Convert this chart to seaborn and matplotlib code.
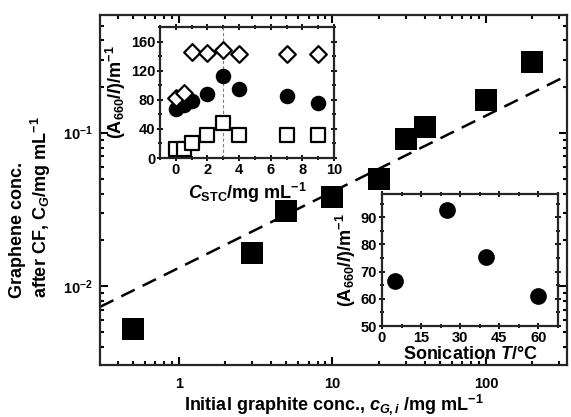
import numpy as np
import pandas as pd
import matplotlib
matplotlib.use("Agg")
import matplotlib.pyplot as plt
import matplotlib.ticker as mticker
import seaborn as sns

# ---------------- data ----------------
# main panel: graphene conc. after CF vs initial graphite conc.
graphite_conc = [0.5, 3, 5, 10, 20, 30, 40, 100, 200]
graphene_conc = [0.0052, 0.0164, 0.0308, 0.0381, 0.0499, 0.0910, 0.1089, 0.163, 0.289]
fit_x = [0.306, 320]
fit_y = [0.0073, 0.2300]

# inset 1: (A660/l) vs C_STC
stc_conc = [0, 0.5, 1, 2, 3, 4, 7, 9]
stc_diamonds = [83, 90, 146, 144, 148.5, 142.5, 142.5, 142.5]
stc_circles = [68, 73, 78, 88, 112, 95, 85, 75]
stc_squares = [13, 13, 21, 32, 48, 31, 32, 31]
stc_optimum = 3

# inset 2: (A660/l) vs sonication temperature
son_temp = [5, 25, 40, 60]
son_abs = [66.5, 92.5, 75.5, 61]

# ---------------- style ----------------
sns.set_theme(style="ticks")
plt.rcParams["font.family"] = ["Liberation Sans", "DejaVu Sans"]
plt.rcParams["font.weight"] = "bold"
plt.rcParams["axes.labelweight"] = "bold"
plt.rcParams["mathtext.fontset"] = "custom"
plt.rcParams["mathtext.rm"] = "Liberation Sans:bold"
plt.rcParams["mathtext.bf"] = "Liberation Sans:bold"
plt.rcParams["mathtext.it"] = "Liberation Sans:italic:bold"
plt.rcParams["mathtext.sf"] = "Liberation Sans:bold"
plt.rcParams["axes.linewidth"] = 1.6
plt.rcParams["text.color"] = "black"
plt.rcParams["axes.labelcolor"] = "black"
plt.rcParams["xtick.color"] = "black"
plt.rcParams["ytick.color"] = "black"

fig = plt.figure(figsize=(5.71, 4.17), dpi=100)
fig.patch.set_facecolor("white")

# ---------------- main axes ----------------
ax = fig.add_axes([100/571, 1-365/417, 467/571, 350/417])
main_df = pd.DataFrame({"x": graphite_conc, "y": graphene_conc})
fit_df = pd.DataFrame({"x": fit_x, "y": fit_y})
sns.lineplot(data=fit_df, x="x", y="y", ax=ax, color="black", lw=1.8,
             dashes=False, zorder=2)
ax.lines[-1].set_dashes((6, 3.5))
sns.scatterplot(data=main_df, x="x", y="y", ax=ax, marker="s", s=250,
                color="black", edgecolor="black", linewidth=0, zorder=3)
ax.set_xscale("log")
ax.set_yscale("log")
ax.set_xlim(0.306, 337)
ax.set_ylim(0.00305, 0.586)
ax.set_xticks([1, 10, 100], labels=["1", "10", "100"])
ax.set_yticks([0.01, 0.1], labels=[r"$10^{-2}$", r"$10^{-1}$"])
ax.xaxis.set_minor_locator(mticker.LogLocator(base=10, subs=np.arange(2, 10)))
ax.yaxis.set_minor_locator(mticker.LogLocator(base=10, subs=np.arange(2, 10)))
ax.xaxis.set_minor_formatter(mticker.NullFormatter())
ax.yaxis.set_minor_formatter(mticker.NullFormatter())
ax.tick_params(which="both", direction="in", top=True, right=True, labelsize=10.5, width=1.5)
ax.tick_params(which="major", length=6)
ax.tick_params(which="minor", length=3)
ax.tick_params(axis="x", which="major", pad=9)
ax.tick_params(axis="y", which="major", pad=5)
for lab in ax.get_xticklabels() + ax.get_yticklabels():
    lab.set_fontweight("bold")
ax.set_xlabel(r"Initial graphite conc., $c_{G,i}$ /mg mL$^{-1}$", fontsize=13,
              fontweight="bold", labelpad=0.5)
ax.set_ylabel("Graphene conc.\n" + r"after CF, C$_G$/mg mL$^{-1}$", fontsize=13,
              fontweight="bold", multialignment="left")
ax.yaxis.set_label_coords(-0.1, 0.45)

# ---------------- inset 1 ----------------
ax1 = fig.add_axes([160/571, 1-158/417, 174/571, 131/417])
ax1.set_facecolor("white")
ax1.axvline(stc_optimum, color="gray", lw=0.8, ls=(0, (3, 2)), zorder=1)
stc_df = pd.DataFrame({"x": stc_conc, "d": stc_diamonds, "c": stc_circles, "s": stc_squares})
sns.scatterplot(data=stc_df, x="x", y="s", ax=ax1, marker="s", s=95,
                facecolor="white", edgecolor="black", linewidth=1.6, zorder=3)
sns.scatterplot(data=stc_df, x="x", y="c", ax=ax1, marker="o", s=125,
                color="black", edgecolor="black", linewidth=0, zorder=3)
sns.scatterplot(data=stc_df, x="x", y="d", ax=ax1, marker="D", s=72,
                facecolor="white", edgecolor="black", linewidth=1.6, zorder=4)
ax1.set_xlim(-1, 10)
ax1.set_ylim(0, 180)
ax1.set_xticks([0, 2, 4, 6, 8, 10])
ax1.set_yticks([0, 40, 80, 120, 160])
ax1.xaxis.set_minor_locator(mticker.MultipleLocator(1))
ax1.yaxis.set_minor_locator(mticker.MultipleLocator(20))
ax1.tick_params(which="both", direction="inout", top=True, right=True, labelsize=10.5,
                width=1.3, pad=1)
ax1.tick_params(which="major", length=5)
ax1.tick_params(which="minor", length=3)
for lab in ax1.get_xticklabels() + ax1.get_yticklabels():
    lab.set_fontweight("bold")
ax1.set_xlabel(r"$C_{\mathregular{STC}}$/mg mL$^{-1}$", fontsize=13, fontweight="bold",
               labelpad=3)
ax1.set_ylabel(r"(A$_{660}$/$l$)/m$^{-1}$", fontsize=13, fontweight="bold", labelpad=2)

# ---------------- inset 2 ----------------
ax2 = fig.add_axes([382/571, 1-326/417, 176/571, 132/417])
ax2.set_facecolor("white")
son_df = pd.DataFrame({"t": son_temp, "a": son_abs})
sns.scatterplot(data=son_df, x="t", y="a", ax=ax2, marker="o", s=145,
                color="black", edgecolor="black", linewidth=0, zorder=3)
ax2.set_xlim(0, 67.5)
ax2.set_ylim(50, 98.5)
ax2.set_xticks([0, 15, 30, 45, 60])
ax2.set_yticks([50, 60, 70, 80, 90])
ax2.xaxis.set_minor_locator(mticker.MultipleLocator(7.5))
ax2.yaxis.set_minor_locator(mticker.MultipleLocator(5))
ax2.tick_params(which="both", direction="inout", top=True, right=True, labelsize=10.5,
                width=1.3, pad=1)
ax2.tick_params(which="major", length=5)
ax2.tick_params(which="minor", length=3)
for lab in ax2.get_xticklabels() + ax2.get_yticklabels():
    lab.set_fontweight("bold")
ax2.set_xlabel(r"Sonication $T$/°C", fontsize=13, fontweight="bold", labelpad=1)
ax2.set_ylabel(r"(A$_{660}$/$l$)/m$^{-1}$", fontsize=13, fontweight="bold", labelpad=2)

fig.savefig("out.png", dpi=100, facecolor="white")
